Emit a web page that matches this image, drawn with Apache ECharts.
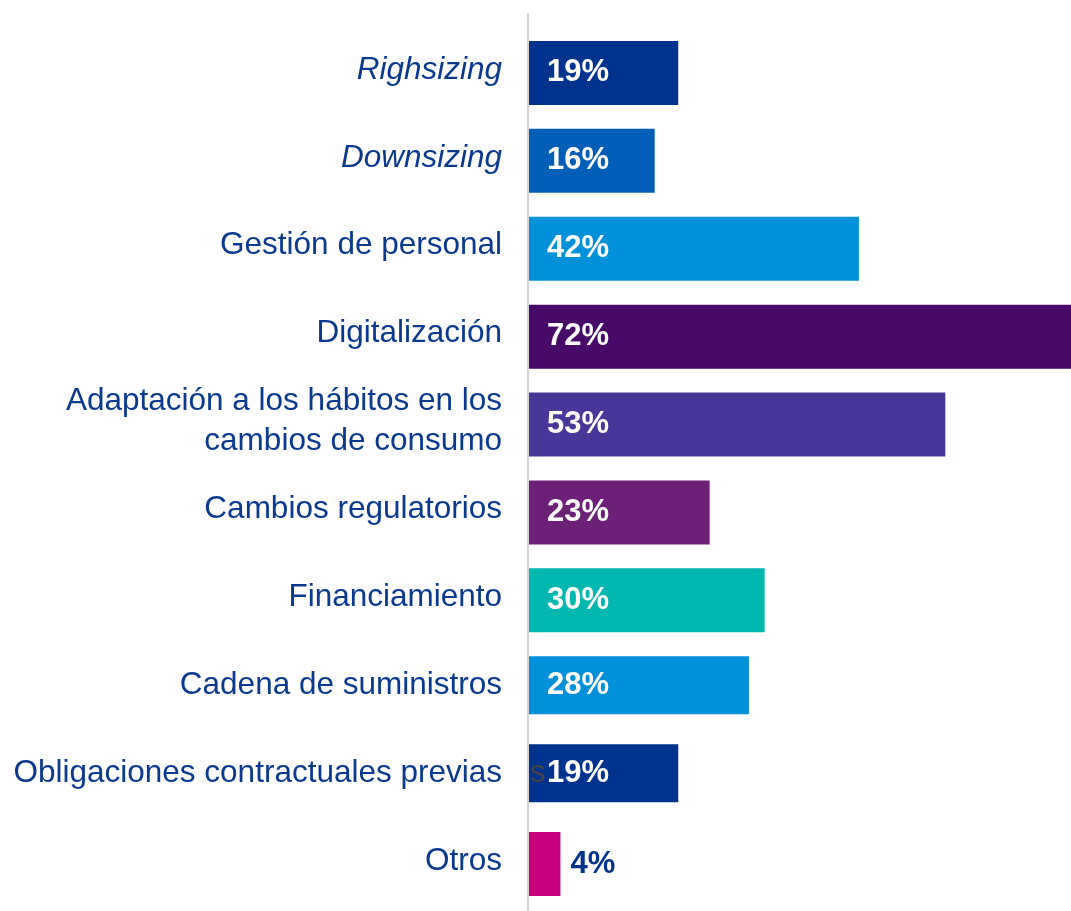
<!DOCTYPE html>
<html>
<head>
<meta charset="utf-8">
<script src="https://cdn.jsdelivr.net/npm/echarts@6/dist/echarts.min.js"></script>
<style>
  html, body { margin: 0; padding: 0; background: #fff; }
  #chart { width: 1071px; height: 911px; }
</style>
</head>
<body>
<div id="chart"></div>
<script>
// categorias, de arriba hacia abajo
var categorias = [
	'Righsizing',
	'Downsizing',
	'Gestión de personal',
	'Digitalización',
	'Adaptación a los hábitos en los\ncambios de consumo',
	'Cambios regulatorios',
	'Financiamiento',
	'Cadena de suministros',
	'Obligaciones contractuales previas',
	'Otros'
]
var valores = [19, 16, 42, 72, 53, 23, 30, 28, 19, 4]
var colores = ['#00338D', '#005EB8', '#0091DA', '#470A68', '#483698', '#6D2077', '#00B8B0', '#0091DA', '#00338D', '#C6007E']
var cursivas = ['Righsizing', 'Downsizing']
// estas dos barras son algo más finas en el original
var finas = ['Cadena de suministros', 'Obligaciones contractuales previas']

var azul = '#0A3A8F'
var fuente = '"Liberation Sans", Arial, sans-serif'

function item(i) {
	var fuera = valores[i] < 10
	return {
		value: valores[i],
		itemStyle: { color: colores[i] },
		label: fuera ? { position: 'right', distance: 10, color: '#00338D' } : {}
	}
}

var datosAnchos = []
var datosFinos = []
for (var i = 0; i < categorias.length; i++) {
	if (finas.indexOf(categorias[i]) >= 0) {
		datosAnchos.push('-')
		datosFinos.push(item(i))
	} else {
		datosAnchos.push(item(i))
		datosFinos.push('-')
	}
}

var etiqueta = {
	show: true,
	position: 'insideLeft',
	distance: 18,
	formatter: '{c}%',
	color: '#fff',
	fontFamily: fuente,
	fontWeight: 'bold',
	fontSize: 31
}

var myChart = echarts.init(document.getElementById('chart'))
var option = {
	animation: false,
	grid: { left: 529, right: 0, top: 26, bottom: 6, containLabel: false },
	xAxis: {
		type: 'value',
		min: 0,
		max: 69,
		show: false
	},
	yAxis: {
		type: 'category',
		inverse: true,
		data: categorias,
		axisLine: { show: false },
		axisTick: { show: false },
		axisLabel: {
			margin: 27,
			color: azul,
			fontFamily: fuente,
			fontSize: 31.5,
			lineHeight: 40,
			align: 'right',
			formatter: function(v) {
				return cursivas.indexOf(v) >= 0 ? '{i|' + v + '}' : v
			},
			rich: {
				i: { fontStyle: 'italic', color: azul, fontFamily: fuente, fontSize: 31.5 }
			}
		}
	},
	graphic: [
		{
			type: 'line',
			shape: { x1: 528, y1: 13, x2: 528, y2: 911 },
			style: { stroke: '#d4d4d4', lineWidth: 2 },
			z: 0
		},
		{
			type: 'text',
			left: 530,
			top: 758,
			style: { text: 's', fill: '#444', fontFamily: fuente, fontSize: 31 },
			z: 100
		}
	],
	series: [
		{
			type: 'bar',
			data: datosAnchos,
			barWidth: 64,
			barGap: '-100%',
			label: etiqueta,
			z: 2
		},
		{
			type: 'bar',
			data: datosFinos,
			barWidth: 58,
			barGap: '-100%',
			label: etiqueta,
			z: 2
		}
	]
}
myChart.setOption(option)
</script>
</body>
</html>
